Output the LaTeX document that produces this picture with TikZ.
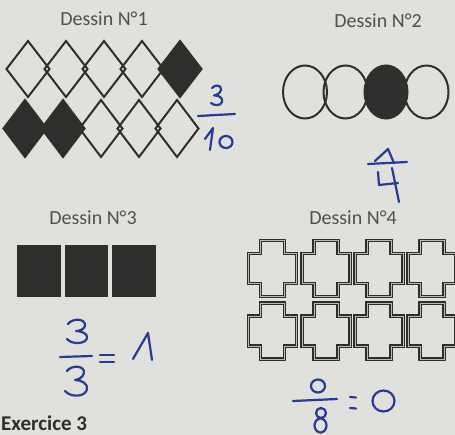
\documentclass[tikz,border=0pt]{standalone}
\usepackage{fontspec}
\setmainfont{Carlito}
\definecolor{paper}{RGB}{224,224,220}
\definecolor{shape}{RGB}{48,46,44}
\definecolor{ink}{RGB}{38,58,150}
\definecolor{label}{RGB}{80,80,80}
\tikzset{
  outline/.style={draw=shape, line width=2pt, line join=miter},
  solid shape/.style={outline, fill=shape},
  crossline/.style={draw=shape, line width=1.3pt, double=gray!55, double distance=0.6pt},
  title/.style={font=\fontsize{20}{22}\selectfont, text=label, inner sep=0pt},
  pen/.style={draw=ink, line width=2.2pt, line cap=round, line join=round},
}
\begin{document}
\begin{tikzpicture}[x=1pt,y=-1pt]
\useasboundingbox (0,0) rectangle (455,435);
\clip (0,0) rectangle (455,435);
\fill[paper] (0,0) rectangle (455,435);

% titles
\node[title] (t1) at (104,19) {Dessin N°1};
\node[title] (t2) at (378,21) {Dessin N°2};
\node[title] (t3) at (93,218) {Dessin N°3};
\node[title] (t4) at (353,218) {Dessin N°4};
\node[font=\fontsize{21}{23}\selectfont\bfseries, text=shape, anchor=base west, inner sep=0pt] (ex) at (1,430) {Exercice 3};

% Dessin 1 : diamonds
\foreach \i/\f in {0/0,1/0,2/0,3/0,4/1}{
  \pgfmathsetmacro\cx{28+38*\i}
  \ifnum\f=1
    \path[solid shape] (\cx,41) -- (\cx+21.5,69) -- (\cx,97) -- (\cx-21.5,69) -- cycle;
  \else
    \path[outline] (\cx,41) -- (\cx+21.5,69) -- (\cx,97) -- (\cx-21.5,69) -- cycle;
  \fi
}
\foreach \i/\f in {0/1,1/1,2/0,3/0,4/0}{
  \pgfmathsetmacro\cx{25+38*\i}
  \ifnum\f=1
    \path[solid shape] (\cx,100) -- (\cx+21.5,128.5) -- (\cx,157) -- (\cx-21.5,128.5) -- cycle;
  \else
    \path[outline] (\cx,100) -- (\cx+21.5,128.5) -- (\cx,157) -- (\cx-21.5,128.5) -- cycle;
  \fi
}

% Dessin 2 : ellipses
\path[outline] (305,92) ellipse [x radius=22, y radius=26.5];
\path[outline] (345.5,92) ellipse [x radius=22, y radius=26.5];
\path[outline] (426.5,92) ellipse [x radius=22, y radius=26.5];
\path[solid shape] (386,92) ellipse [x radius=21.5, y radius=26.5];

% Dessin 3 : squares
\path[solid shape, line width=1pt] (17,246) rectangle (60,297);
\path[solid shape, line width=1pt] (65,246) rectangle (107,297);
\path[solid shape, line width=1pt] (112,246) rectangle (155,297);

% Dessin 4 : crosses
\foreach \cx in {272.5,326,379,432}{
  \foreach \cy in {268.5,331}{
    \begin{scope}[shift={(\cx,\cy)}]
      \path[crossline] (-12,-28) -- (12,-28) -- (12,-15) -- (24,-15) -- (24,15) -- (12,15)
        -- (12,28) -- (-12,28) -- (-12,15) -- (-24,15) -- (-24,-15) -- (-12,-15) -- cycle;
    \end{scope}
  }
}

% handwriting 3/10
\path[pen] (212,88) .. controls (215,84) and (222,85) .. (221,90)
  .. controls (220,94) and (216,95) .. (214,95.5)
  .. controls (219,95) and (223,98) .. (222,102)
  .. controls (221,106) and (214,106) .. (211,103);
\path[pen] (198,116) -- (235,114);
\path[pen] (205,139) -- (213,128) -- (210,150);
\path[pen] (226,142) ellipse [x radius=6.5, y radius=6];

% handwriting 1/4
\path[pen] (375,161) -- (388,149) -- (394,163);
\path[pen] (368,164) -- (407,162);
\path[pen] (378,172) -- (379,185) -- (398,183);
\path[pen] (392,168) -- (399,202);

% handwriting 3/3 = 1
\path[pen] (68,324) .. controls (72,318) and (86,318) .. (85,326)
  .. controls (84,330) and (78,331) .. (76,331)
  .. controls (82,331) and (88,334) .. (87,338)
  .. controls (86,344) and (72,345) .. (67,339);
\path[pen] (60,357) -- (92,356);
\path[pen] (67,371) .. controls (71,365) and (85,365) .. (84,373)
  .. controls (83,378) and (77,380) .. (75,380)
  .. controls (82,380) and (88,384) .. (87,389)
  .. controls (86,397) and (71,398) .. (65,391);
\path[pen] (100,355) -- (114,355);
\path[pen] (100,362) -- (114,362);
\path[pen] (133,359) -- (148,333) -- (152,360);

% handwriting 0/8 = 0
\path[pen] (318,386) ellipse [x radius=7, y radius=6.5];
\path[pen] (293,401) -- (337,399);
\path[pen] (321,413) circle [radius=5];
\path[pen] (320.5,425.5) ellipse [x radius=6, y radius=7];
\path[pen] (350,397) -- (356,397.5);
\path[pen] (350,408) -- (356,408.5);
\path[pen] (383.5,401) ellipse [x radius=11, y radius=10.5];
\end{tikzpicture}
\end{document}
